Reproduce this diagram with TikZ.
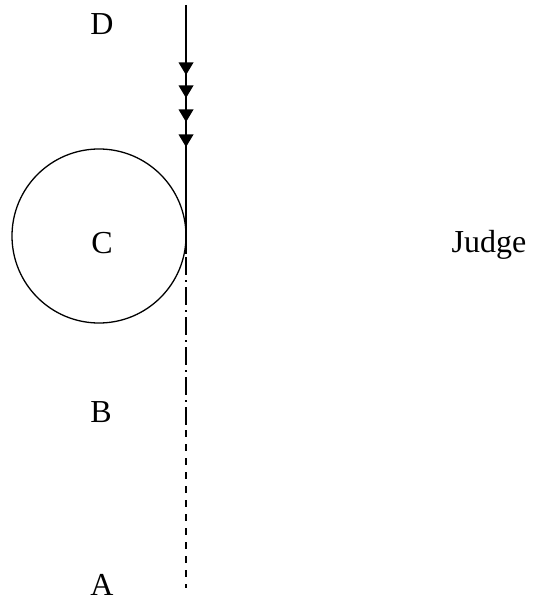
\documentclass[tikz,border=0pt]{standalone}
\usepackage{fontspec}
\setmainfont{Liberation Serif}
\begin{document}
\begin{tikzpicture}[x=1pt,y=-1pt,
  lbl/.style={font=\fontsize{32}{36}\selectfont, anchor=base, inner sep=0pt},
  mainline/.style={line width=2pt},
  arrowhead/.style={fill=black, draw=none},
  dashdot/.style={line width=2pt, dash pattern=on 18pt off 5pt on 2pt off 5pt},
  dashline/.style={line width=2pt, dash pattern=on 7pt off 7pt},
  ring/.style={draw, line width=1.3pt}]
\useasboundingbox (0,0) rectangle (542,601);
\node[lbl] (D) at (102,35) {D};
\node[lbl] (C) at (102,253) {C};
\node[lbl] (B) at (101,422) {B};
\node[lbl] (A) at (102,595) {A};
\node[lbl] (J) at (489,252) {Judge};
\node[ring, circle, minimum size=174pt, inner sep=0pt] (circ) at (99,236) {};
\coordinate (top) at (186,5);
\coordinate (solidend) at (186,254);
\coordinate (ddstart) at (186,257);
\coordinate (ddend) at (186,430);
\coordinate (dashend) at (186,588);
\draw[mainline] (top) -- (solidend);
\draw[dashdot] (ddstart) -- (ddend);
\draw[dashline] (ddend) -- (dashend);
\foreach \t in {75,98,122,147}{
  \fill[arrowhead] (186,\t) -- (178.5,\t-12.5) -- (193.5,\t-12.5) -- cycle;
}
\end{tikzpicture}
\end{document}
